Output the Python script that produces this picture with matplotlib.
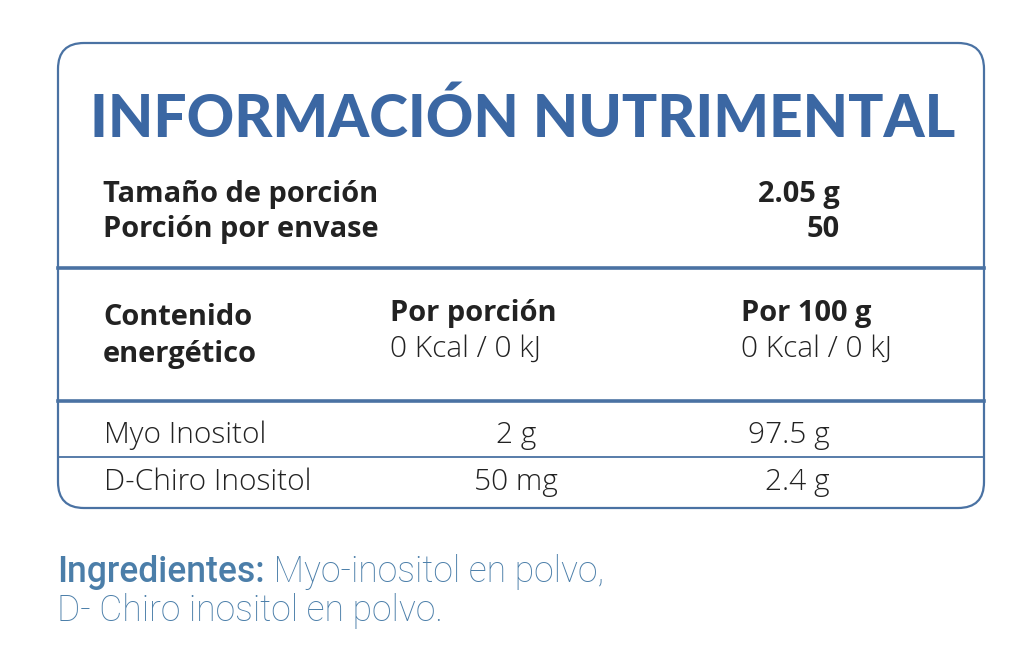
import matplotlib.pyplot as plt
from matplotlib.patches import FancyBboxPatch

# Text content of the label
title = "INFORMACIÓN NUTRIMENTAL"
serving_labels = ["Tamaño de porción", "Porción por envase"]
serving_values = ["2.05 g", "50"]
energy_label = ["Contenido", "energético"]
col_headers = ["Por porción", "Por 100 g"]
energy_values = ["0 Kcal / 0 kJ", "0 Kcal / 0 kJ"]
nutrients = ["Myo Inositol", "D-Chiro Inositol"]
per_portion = ["2 g", "50 mg"]
per_100g = ["97.5 g", "2.4 g"]
ingr_head = "Ingredientes:"
ingr_lines = [" Myo-inositol en polvo,", "D- Chiro inositol en polvo."]

blue = "#3b67a3"
line_c = "#4a72a3"
ink = "#222222"
ingr_c = "#4b7ea9"

fig = plt.figure(figsize=(10.24, 6.59), dpi=100)
ax = fig.add_axes([0, 0, 1, 1])
ax.set_xlim(0, 1024)
ax.set_ylim(659, 0)
ax.axis("off")

# outer rounded box
box = FancyBboxPatch((58, 43), 926, 465, boxstyle="round,pad=0,rounding_size=26",
                     fc="white", ec=line_c, lw=1.6)
ax.add_patch(box)
ax.plot([58, 984], [268, 268], color=line_c, lw=2.6)
ax.plot([58, 984], [401, 401], color=line_c, lw=2.6)
ax.plot([58, 984], [457, 457], color=line_c, lw=1.3)

ax.text(90, 137, title, color=blue, fontsize=42.2, fontweight="black",
        family="Lato", va="baseline", ha="left")

bold = dict(family="Open Sans", fontweight="bold", color=ink, fontsize=20.9, va="baseline")
reg = dict(family="Open Sans", fontweight="light", color=ink, fontsize=21.5, va="baseline")

for i, (lab, val) in enumerate(zip(serving_labels, serving_values)):
    y = 202 + i * 35
    ax.text(103, y, lab, ha="left", **bold)
    ax.text(840, y, val, ha="right", **bold)

for i, lab in enumerate(energy_label):
    ax.text(103, 325 + i * 37, lab, ha="left", **bold)

for x, h, v in zip([390, 741], col_headers, energy_values):
    ax.text(x, 321, h, ha="left", **bold)
    ax.text(x, 357, v, ha="left", **reg)

for i, (n, a, b) in enumerate(zip(nutrients, per_portion, per_100g)):
    y = 443 + i * 47
    ax.text(104, y, n, ha="left", **reg)
    ax.text(516, y, a, ha="center", **reg)
    ax.text(830, y, b, ha="right", **reg)

ingr = dict(color=ingr_c, family="Roboto", fontsize=25.6, va="baseline", ha="left")
t = ax.text(57, 582, ingr_head, fontweight="medium", **ingr)
# put the rest of line one right after the heading, on the same baseline
fig.canvas.draw()
x_end = ax.transData.inverted().transform(t.get_window_extent().p1)[0]
ax.text(x_end, 582, ingr_lines[0], fontweight="light", **ingr)
ax.text(57, 621, ingr_lines[1], fontweight="light", **ingr)

fig.savefig("out.png", dpi=100, facecolor="white")
